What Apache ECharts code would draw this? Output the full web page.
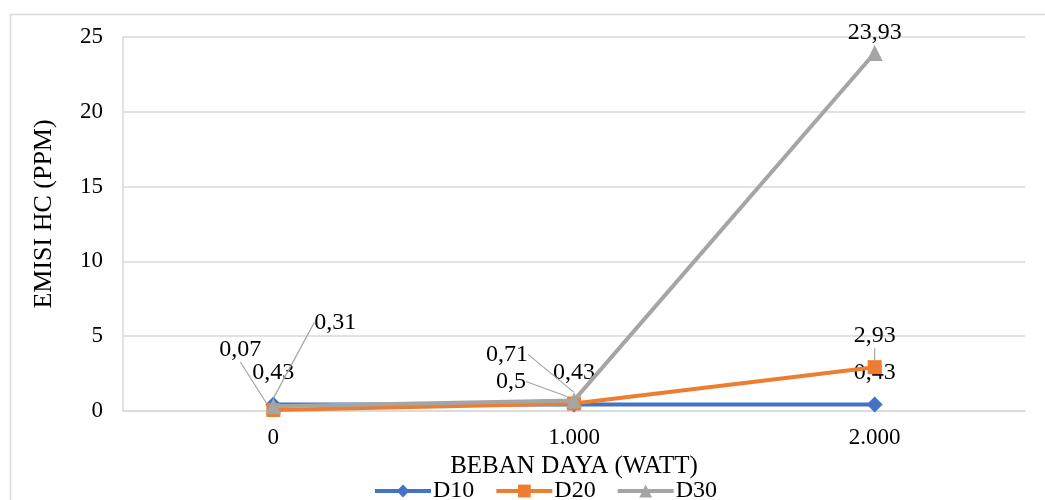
<!DOCTYPE html>
<html>
<head>
<meta charset="utf-8">
<script src="https://cdn.jsdelivr.net/npm/echarts@6/dist/echarts.min.js"></script>
<style>html,body{margin:0;padding:0;background:#fff;}#c{width:1045px;height:500px;}</style>
</head>
<body>
<div id="c"></div>
<script>
const categories = ['0', '1.000', '2.000'];
const d10 = [0.43, 0.43, 0.43];
const d20 = [0.07, 0.5, 2.93];
const d30 = [0.31, 0.71, 23.93];
const yTicks = [0, 5, 10, 15, 20, 25];

const FONT = "'Liberation Serif', 'Times New Roman', serif";
const fmt = p => String(p.value).replace('.', ',');

// label shifts (leader-line labels), by data index
const shiftD20 = [[-33, -29], [-63, 9], null];
const shiftD30 = [[62, -64], [-67, -26], null];

function layoutFrom(shifts) {
  return function (params) {
    const s = shifts[params.dataIndex];
    if (!s) return {};
    return { dx: s[0], dy: s[1] };
  };
}

const chart = echarts.init(document.getElementById('c'));
const labelBase = { show: true, position: 'top', distance: 12, color: '#000', fontFamily: FONT, fontSize: 24, formatter: fmt };

chart.setOption({
  animation: false,
  graphic: [{
    type: 'rect', left: 8, top: 12, shape: { x: 0, y: 0, width: 1100, height: 600 },
    style: { fill: 'none', stroke: '#d9d9d9', lineWidth: 1.5 }, silent: true, z: -1
  }],
  grid: { left: 123, right: 20, top: 37, bottom: 89 },
  legend: {
    top: 474, left: 368, itemWidth: 56, itemHeight: 16, itemGap: 20,
    lineStyle: { width: 4 },
    textStyle: { fontFamily: FONT, fontSize: 24, color: '#000', padding: [0, 0, 0, -3] },
    data: ['D10', 'D20', 'D30']
  },
  xAxis: {
    type: 'category', data: categories, boundaryGap: true,
    name: 'BEBAN DAYA (WATT)', nameLocation: 'middle', nameGap: 38,
    nameTextStyle: { fontFamily: FONT, fontSize: 25, color: '#000' },
    axisLine: { lineStyle: { color: '#d9d9d9', width: 1.5 } },
    axisTick: { show: false },
    axisLabel: { fontFamily: FONT, fontSize: 23, color: '#000', margin: 15 }
  },
  yAxis: {
    type: 'value', min: yTicks[0], max: yTicks[yTicks.length - 1], interval: 5,
    name: 'EMISI HC (PPM)', nameLocation: 'middle', nameGap: 66,
    nameTextStyle: { fontFamily: FONT, fontSize: 26, color: '#000', padding: [0, 0, 0, 20] },
    axisLine: { show: true, lineStyle: { color: '#d9d9d9', width: 1.5 } },
    axisTick: { show: false },
    axisLabel: { fontFamily: FONT, fontSize: 23, color: '#000', margin: 20 },
    splitLine: { lineStyle: { color: '#d9d9d9', width: 1.5 } }
  },
  series: [
    {
      name: 'D10', type: 'line', data: d10, symbol: 'diamond', symbolSize: 16,
      lineStyle: { color: '#4472C4', width: 4 }, itemStyle: { color: '#4472C4' },
      label: Object.assign({}, labelBase, { distance: 12 }), z: 2
    },
    {
      name: 'D20', type: 'line', data: d20, symbol: 'rect', symbolSize: 14,
      lineStyle: { color: '#ED7D31', width: 4 }, itemStyle: { color: '#ED7D31' },
      label: Object.assign({}, labelBase, { distance: 12 }),
      labelLayout: layoutFrom(shiftD20),
      labelLine: { show: true, lineStyle: { color: '#A5A5A5', width: 1.2 } }, z: 3
    },
    {
      name: 'D30', type: 'line', data: d30, symbol: 'triangle', symbolSize: 16,
      lineStyle: { color: '#A5A5A5', width: 4 }, itemStyle: { color: '#A5A5A5' },
      label: Object.assign({}, labelBase, { distance: 0 }),
      labelLayout: layoutFrom(shiftD30),
      labelLine: { show: true, lineStyle: { color: '#A5A5A5', width: 1.2 } }, z: 4
    }
  ]
});
</script>
</body>
</html>
